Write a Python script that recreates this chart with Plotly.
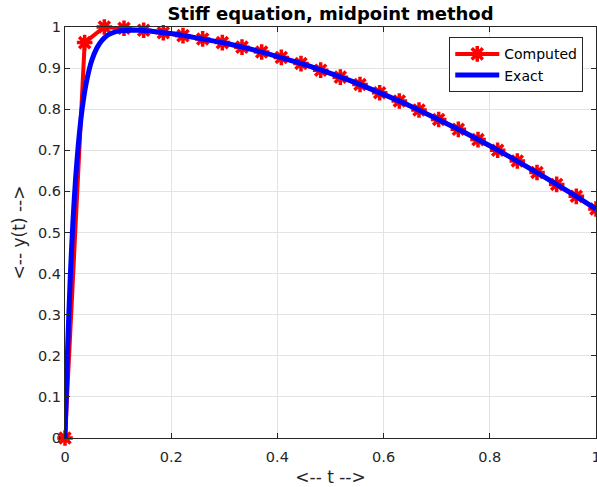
import plotly.graph_objects as go

# Computed (midpoint method), h = 1/27
t_comp = [k / 27 for k in range(28)]
y_comp = [0.0, 0.962, 1.0, 0.997, 0.992, 0.986, 0.979, 0.971, 0.962, 0.951,
          0.939, 0.926, 0.911, 0.895, 0.878, 0.860, 0.840, 0.820, 0.798, 0.775,
          0.751, 0.726, 0.700, 0.674, 0.646, 0.617, 0.588, 0.557]

# Exact solution
t_exact = [0.0, 0.005, 0.01, 0.015, 0.02, 0.025, 0.03, 0.035, 0.04, 0.05, 0.06,
           0.07, 0.08, 0.09, 0.10, 0.12, 0.14, 0.16, 0.18, 0.20, 0.25, 0.30,
           0.35, 0.40, 0.45, 0.50, 0.55, 0.60, 0.65, 0.70, 0.75, 0.80, 0.85,
           0.90, 0.95, 1.00]
y_exact = [0.0, 0.221, 0.394, 0.528, 0.632, 0.713, 0.777, 0.826, 0.864, 0.917,
           0.949, 0.968, 0.980, 0.986, 0.990, 0.992, 0.992, 0.990, 0.987, 0.984,
           0.973, 0.961, 0.946, 0.928, 0.909, 0.887, 0.863, 0.836, 0.808, 0.777,
           0.745, 0.711, 0.675, 0.637, 0.598, 0.557]

x_ticks = [0, 0.2, 0.4, 0.6, 0.8, 1]
y_ticks = [0, 0.1, 0.2, 0.3, 0.4, 0.5, 0.6, 0.7, 0.8, 0.9, 1]

fig = go.Figure()
fig.add_trace(go.Scatter(
    x=t_comp, y=y_comp, name="Computed", mode="lines+markers",
    line=dict(color="#ff0000", width=4),
    marker=dict(symbol="asterisk-open", size=13, color="#ff0000",
                line=dict(color="#ff0000", width=3.5)),
    cliponaxis=False,
))
fig.add_trace(go.Scatter(
    x=t_exact, y=y_exact, name="Exact", mode="lines",
    line=dict(color="#0000ff", width=5, shape="spline", smoothing=0.6),
    cliponaxis=False,
))

axis_common = dict(
    showgrid=True, gridcolor="#e3e3e3", gridwidth=1,
    showline=True, linecolor="#262626", linewidth=1, mirror="ticks",
    ticks="inside", ticklen=5, tickcolor="#262626",
    tickfont=dict(family="DejaVu Sans", size=14.5, color="#262626"),
    zeroline=False, ticklabeloverflow="allow", automargin=False,
)

fig.update_layout(
    width=597, height=487,
    margin=dict(l=65, r=1, t=27, b=49, autoexpand=False),
    paper_bgcolor="white", plot_bgcolor="white",
    title=dict(text="<b>Stiff equation, midpoint method</b>",
               x=(65 + 596) / 2 / 597, xanchor="center", y=0.972, yanchor="middle",
               font=dict(family="DejaVu Sans", size=18, color="black")),
    xaxis=dict(range=[0, 1], tickvals=x_ticks, ticktext=[f"{v:g}" for v in x_ticks],
               ticklabelstandoff=6,
               title=dict(text="<-- t -->", standoff=8,
                          font=dict(family="DejaVu Sans", size=17, color="#262626")),
               **axis_common),
    yaxis=dict(range=[0, 1], tickvals=y_ticks, ticktext=[f"{v:g}" for v in y_ticks],
               title=dict(text="<-- y(t) -->", standoff=8,
                          font=dict(family="DejaVu Sans", size=17, color="#262626")),
               **axis_common),
    legend=dict(x=0.976, y=0.975, xanchor="right", yanchor="top",
                bgcolor="white", bordercolor="#262626", borderwidth=1,
                font=dict(family="DejaVu Sans", size=14, color="black"),
                tracegroupgap=0, itemwidth=44),
    showlegend=True,
)

fig.write_html("out.html",
               config={"displayModeBar": False},
               post_script="document.body.style.margin='0';"
                           "document.body.style.overflow='hidden';")
